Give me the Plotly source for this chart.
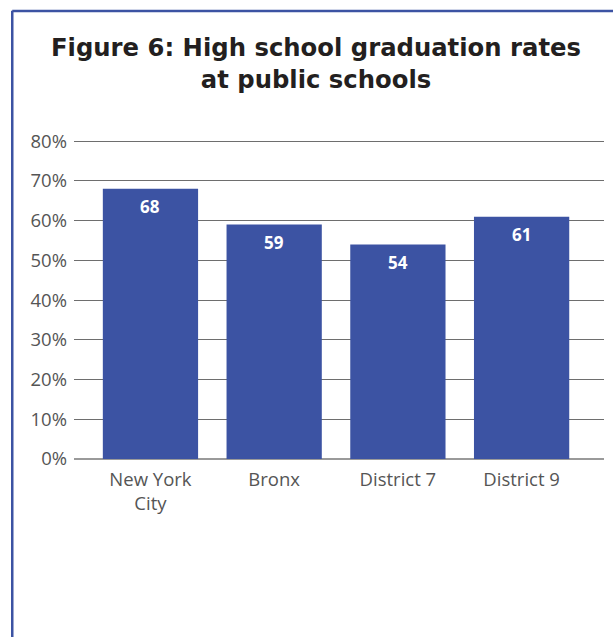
import plotly.graph_objects as go

# Graduation rates by area (%)
areas = ["New York<br>City", "Bronx", "District 7", "District 9"]
rates = [68, 59, 54, 61]
y_ticks = [0, 10, 20, 30, 40, 50, 60, 70, 80]
y_tick_labels = [f"{v}%" for v in y_ticks]
title_text = "Figure 6: High school graduation rates<br>at public schools"

BLUE = "#3c53a3"
GRID = "#6e6e6e"
TEXT = "#555555"
FONT = "Open Sans"

fig = go.Figure(
    go.Bar(
        x=list(range(len(areas))),
        y=rates,
        marker=dict(color=BLUE, line=dict(width=0)),
        width=0.77,
        hoverinfo="skip",
    )
)

# value labels sitting just inside the top of each bar
for i, v in enumerate(rates):
    fig.add_annotation(
        x=i, y=v, text=f"<b>{v}</b>", showarrow=False,
        yshift=-18, font=dict(family=FONT, size=17, color="white"),
    )

# two-line heading
fig.add_annotation(
    xref="paper", yref="paper", x=0.457, y=1.2395,
    xanchor="center", yanchor="middle", showarrow=False,
    text=f"<b>{title_text}</b>",
    font=dict(family="DejaVu Sans", size=24.3, color="#231f20"),
)

# frame lines on the left and top of the panel
fig.add_shape(type="line", xref="paper", yref="paper",
              x0=-0.1165, x1=-0.1165, y0=-0.6, y1=1.405,
              line=dict(color=BLUE, width=2.5))
fig.add_shape(type="line", xref="paper", yref="paper",
              x0=-0.1165, x1=1.03, y0=1.404, y1=1.404,
              line=dict(color=BLUE, width=2.5))

fig.update_layout(
    width=613, height=637,
    margin=dict(l=74, r=9, t=140, b=178),
    paper_bgcolor="white", plot_bgcolor="white",
    showlegend=False,
    xaxis=dict(
        tickmode="array", tickvals=list(range(len(areas))), ticktext=areas,
        range=[-0.618, 3.666], showgrid=False, zeroline=False, showline=False,
        ticks="", ticklabelstandoff=7,
        tickfont=dict(family=FONT, size=18.5, color=TEXT),
        fixedrange=True,
    ),
    yaxis=dict(
        range=[0, 80.3], tickmode="array", tickvals=y_ticks, ticktext=y_tick_labels,
        showgrid=True, gridcolor=GRID, gridwidth=1, zeroline=True,
        zerolinecolor="#9a9a9a", zerolinewidth=1.5, showline=False,
        ticks="", ticklabelstandoff=6,
        tickfont=dict(family=FONT, size=18.5, color=TEXT),
        fixedrange=True,
    ),
)

fig.write_html("out.html")
